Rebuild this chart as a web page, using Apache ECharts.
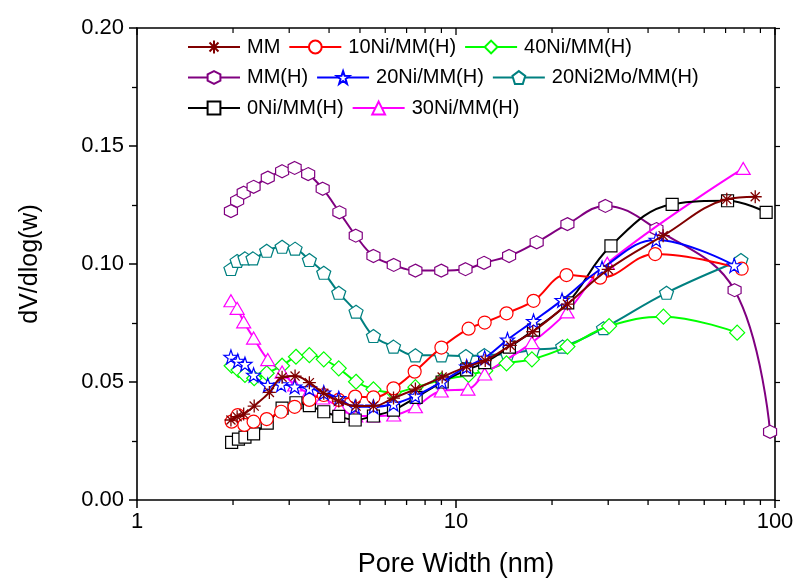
<!DOCTYPE html>
<html><head><meta charset="utf-8">
<script src="https://cdn.jsdelivr.net/npm/echarts@6/dist/echarts.min.js"></script>
<style>html,body{margin:0;padding:0;background:#fff}#c{width:793px;height:579px}</style>
</head><body><div id="c"></div>
<script>
// ---- data ----
const mm_x   = [1.97,2.06,2.16,2.33,2.60,2.85,3.13,3.47,3.85,4.29,4.86,5.51,6.37,7.46,9.05,10.8,12.35,14.8,17.4,22.35,30.0,44.6,70.6,86.7];
const mm_y   = [0.0339,0.0353,0.0364,0.0398,0.0456,0.0520,0.0525,0.0497,0.0452,0.0419,0.0398,0.0398,0.0432,0.0470,0.0521,0.0565,0.0591,0.0655,0.0713,0.0830,0.0977,0.1120,0.1274,0.1285];

const ni10_x = [1.98,2.07,2.17,2.32,2.55,2.83,3.12,3.47,3.85,4.29,4.83,5.51,6.37,7.42,9.0,10.95,12.3,14.4,17.5,22.2,28.3,42.1,78.6];
const ni10_y = [0.0332,0.0360,0.0318,0.0332,0.0343,0.0374,0.0395,0.0424,0.0445,0.0424,0.0438,0.0435,0.0473,0.0544,0.0646,0.0726,0.0752,0.0791,0.0844,0.0953,0.0942,0.1042,0.0980];

const ni40_x = [1.98,2.08,2.18,2.33,2.55,2.85,3.15,3.47,3.85,4.29,4.86,5.51,6.37,7.46,9.0,10.95,12.35,14.4,17.3,22.35,30.2,44.7,76.1];
const ni40_y = [0.0569,0.0551,0.0530,0.0516,0.0537,0.0569,0.0607,0.0614,0.0596,0.0558,0.0501,0.0469,0.0455,0.0478,0.0508,0.0530,0.0548,0.0579,0.0596,0.0650,0.0737,0.0777,0.0709];

const mmh_x  = [1.97,2.06,2.16,2.32,2.57,2.85,3.12,3.44,3.82,4.31,4.85,5.51,6.38,7.46,8.99,10.71,12.24,14.67,17.9,22.35,29.4,42.5,74.7,96.5];
const mmh_y  = [0.1224,0.1268,0.1302,0.1327,0.1366,0.1393,0.1407,0.1381,0.1319,0.1219,0.1120,0.1034,0.0996,0.0972,0.0972,0.0978,0.1005,0.1034,0.1092,0.1169,0.1246,0.1148,0.0889,0.0289];

const ni20_x = [1.97,2.07,2.18,2.32,2.57,2.83,3.12,3.47,3.85,4.29,4.83,5.51,6.37,7.46,9.04,10.8,12.3,14.5,17.5,21.5,28.7,42.4,74.5];
const ni20_y = [0.0606,0.0589,0.0576,0.0530,0.0487,0.0490,0.0480,0.0473,0.0455,0.0431,0.0395,0.0395,0.0407,0.0441,0.0501,0.0565,0.0602,0.0679,0.0758,0.0847,0.0982,0.1102,0.0994];

const mo_x   = [1.97,2.06,2.18,2.31,2.55,2.85,3.13,3.47,3.85,4.29,4.86,5.51,6.37,7.46,9.0,10.74,12.28,14.5,17.38,21.6,29.0,45.7,78.2];
const mo_y   = [0.0979,0.1013,0.1024,0.1024,0.1056,0.1073,0.1065,0.1017,0.0963,0.0878,0.0798,0.0695,0.0650,0.0613,0.0613,0.0610,0.0614,0.0619,0.0636,0.0650,0.0728,0.0878,0.1017];

const ni0_x  = [1.98,2.08,2.18,2.32,2.56,2.85,3.15,3.47,3.85,4.29,4.83,5.51,6.37,7.5,9.05,10.8,12.3,14.7,17.5,22.4,30.6,47.6,71.0,93.8];
const ni0_y  = [0.0244,0.0258,0.0266,0.0280,0.0326,0.0389,0.0412,0.0400,0.0374,0.0354,0.0339,0.0356,0.0381,0.0435,0.0500,0.0551,0.0582,0.0648,0.0720,0.0835,0.1077,0.1253,0.1268,0.1219];

const ni30_x = [1.97,2.06,2.16,2.32,2.57,2.85,3.12,3.44,3.82,4.31,4.85,5.51,6.38,7.46,8.99,10.9,12.3,17.3,22.3,29.8,79.5];
const ni30_y = [0.0844,0.0812,0.0755,0.0686,0.0595,0.0542,0.0487,0.0453,0.0432,0.0394,0.0356,0.0356,0.0360,0.0395,0.0462,0.0470,0.0534,0.0667,0.0797,0.1003,0.1405];

const xMajorTicks = [1, 10, 100];
const xMinorTicks = [2,3,4,5,6,7,8,9,20,30,40,50,60,70,80,90];
const legendRows = [
  ['MM','10Ni/MM(H)','40Ni/MM(H)'],
  ['MM(H)','20Ni/MM(H)','20Ni2Mo/MM(H)'],
  ['0Ni/MM(H)','30Ni/MM(H)']
];

// ---- styling ----
const FONT = "'Liberation Sans', Arial, sans-serif";
const SYM = {
  asterisk: 'path://M5,0L5,10M0,5L10,5M1.5,1.5L8.5,8.5M8.5,1.5L1.5,8.5',
  hexagon: 'path://M5,0L9.33,2.5L9.33,7.5L5,10L0.67,7.5L0.67,2.5Z',
  pentagon: 'path://M5,0L9.76,3.45L7.94,9.05L2.06,9.05L0.24,3.45Z',
  star: 'path://M5,0L6.18,3.38L9.76,3.45L6.9,5.62L7.94,9.05L5,7L2.06,9.05L3.1,5.62L0.24,3.45L3.82,3.38Z'
};
function pairs(xs, ys){ return xs.map((x,i)=>[x, ys[i]]); }
function mk(name, xs, ys, color, symbol, size, z, filled){
  return {
    name, type:'line', data: pairs(xs, ys), smooth: 0.4, z,
    symbol, symbolSize: size, showSymbol: true,
    lineStyle: {color, width: 2},
    itemStyle: filled ? {color, borderColor: color, borderWidth: 1.3}
                      : {color: '#fff', borderColor: color, borderWidth: 1.2},
    emphasis: {disabled: true}
  };
}

const series = [
  mk('MM(H)', mmh_x, mmh_y, '#800080', SYM.hexagon, [13,13], 2),
  mk('20Ni2Mo/MM(H)', mo_x, mo_y, '#008080', SYM.pentagon, [14,13], 2),
  mk('40Ni/MM(H)', ni40_x, ni40_y, '#00FF00', 'diamond', [15,15], 3),
  mk('30Ni/MM(H)', ni30_x, ni30_y, '#FF00FF', 'triangle', [14,12], 3),
  mk('0Ni/MM(H)', ni0_x, ni0_y, '#000000', 'rect', [12,12], 4),
  mk('10Ni/MM(H)', ni10_x, ni10_y, '#FF0000', 'circle', [13,13], 4),
  mk('20Ni/MM(H)', ni20_x, ni20_y, '#0000FF', SYM.star, [14,14], 5),
  mk('MM', mm_x, mm_y, '#800000', SYM.asterisk, [13,13], 6, true)
];

const legends = legendRows.map((row, i) => ({
  data: row, left: 187, top: 37 + i*30.5, orient: 'horizontal',
  itemWidth: 52, itemHeight: 16, itemGap: 8, padding: 0,
  selectedMode: false,
  textStyle: {fontSize: 20, fontFamily: FONT, color: '#000', padding: [0,0,0,2]}
}));

const axisLine = {show: true, onZero: false, lineStyle: {color: '#000', width: 1.6}};
const chart = echarts.init(document.getElementById('c'), null, {renderer: 'canvas'});
chart.setOption({
  animation: false,
  backgroundColor: '#fff',
  grid: {left: 137, right: 18, top: 28, bottom: 79, containLabel: false, outerBoundsMode: 'none'},
  legend: legends,
  xAxis: [
    {type: 'log', logBase: 10, min: 1, max: 100, position: 'bottom',
     axisLine, splitLine: {show: false},
     axisTick: {show: true, length: 8, lineStyle: {color: '#000', width: 1.5}},
     axisLabel: {color: '#000', fontSize: 22, fontFamily: FONT, margin: 11, formatter: v => String(v)},
     name: 'Pore Width (nm)', nameLocation: 'middle', nameGap: 51,
     nameTextStyle: {fontSize: 27, fontFamily: FONT, color: '#000'}},
    {type: 'log', logBase: 10, min: 1, max: 100, position: 'top',
     axisLine, splitLine: {show: false}, axisLabel: {show: false}, axisTick: {show: false}}
  ],
  yAxis: [
    {type: 'value', min: 0, max: 0.2, interval: 0.05, position: 'left',
     axisLine, splitLine: {show: false},
     axisTick: {show: true, length: 8, lineStyle: {color: '#000', width: 1.5}},
     minorTick: {show: true, splitNumber: 2, length: 5, lineStyle: {color: '#000', width: 1.3}},
     axisLabel: {color: '#000', fontSize: 22, fontFamily: FONT, margin: 13, formatter: v => v.toFixed(2)},
     name: 'dV/dlog(w)', nameLocation: 'middle', nameGap: 94, nameRotate: 90,
     nameTextStyle: {fontSize: 25, fontFamily: FONT, color: '#000'}},
    {type: 'value', min: 0, max: 0.2, interval: 0.05, position: 'right',
     axisLine, splitLine: {show: false}, axisLabel: {show: false},
     axisTick: {show: true, length: 5, lineStyle: {color: '#000', width: 1.2}},
     minorTick: {show: true, splitNumber: 2, length: 5, lineStyle: {color: '#000', width: 1.2}}}
  ],
  series
});

// minor ticks of the log axis (bottom, outward) and mirrored ticks on top (inward),
// positioned by the chart's own x scale
(function(){
  const yb = chart.convertToPixel({yAxisIndex: 0}, 0);
  const yt = chart.convertToPixel({yAxisIndex: 0}, 0.2);
  const els = [];
  xMinorTicks.forEach(v => {
    const x = chart.convertToPixel({xAxisIndex: 0}, v);
    els.push({type: 'line', silent: true, shape: {x1: x, y1: yb, x2: x, y2: yb + 5}, style: {stroke: '#000', lineWidth: 1.3}});
    els.push({type: 'line', silent: true, shape: {x1: x, y1: yt, x2: x, y2: yt + 5}, style: {stroke: '#000', lineWidth: 1.2}});
  });
  xMajorTicks.forEach(v => {
    const x = chart.convertToPixel({xAxisIndex: 0}, v);
    els.push({type: 'line', silent: true, shape: {x1: x, y1: yt, x2: x, y2: yt + 7}, style: {stroke: '#000', lineWidth: 1.3}});
  });
  chart.setOption({graphic: els});
})();
</script></body></html>
